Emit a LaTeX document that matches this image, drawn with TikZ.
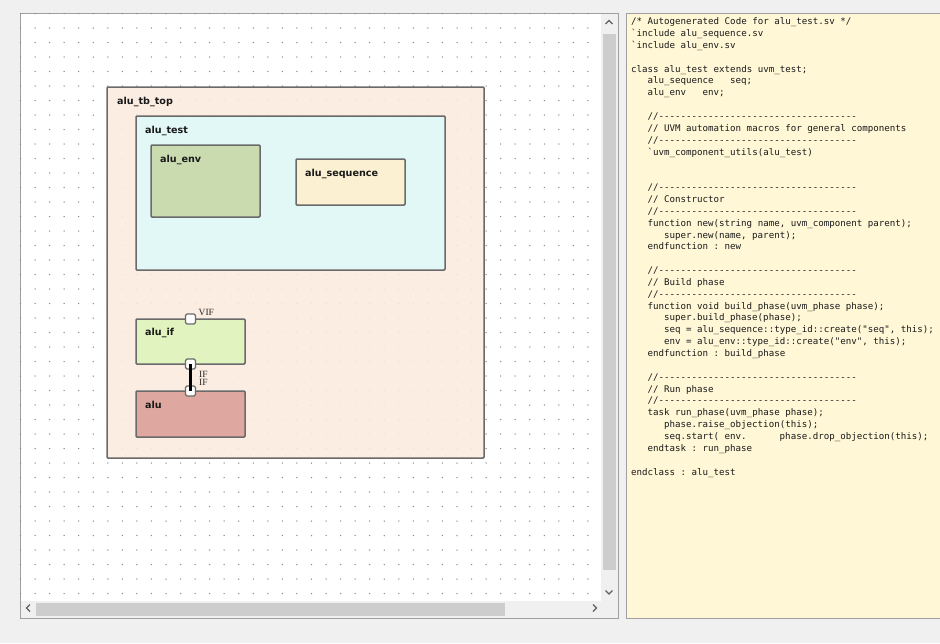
\documentclass[tikz,border=0pt]{standalone}
\usepackage{fontspec}
\setmonofont{DejaVu Sans Mono}
\newfontfamily\blkfont{DejaVu Sans}
\newfontfamily\portfont{Liberation Serif}
\usetikzlibrary{positioning}

\definecolor{bggray}{HTML}{F0F0F0}
\definecolor{frameline}{HTML}{A0A0A0}
\definecolor{dotc}{HTML}{8C8C8C}
\definecolor{blkline}{HTML}{6A6A6A}
\definecolor{tbtopfill}{HTML}{FCEBDE}
\definecolor{testfill}{HTML}{DFFAFA}
\definecolor{envfill}{HTML}{C6D8A6}
\definecolor{seqfill}{HTML}{FFF1CD}
\definecolor{iffill}{HTML}{DEF5BC}
\definecolor{alufill}{HTML}{DA9E96}
\definecolor{codefill}{HTML}{FFF7D6}
\definecolor{codetext}{HTML}{1A1A1A}
\definecolor{thumbc}{HTML}{CDCDCD}
\definecolor{sbarrowc}{HTML}{606060}

\newlength\codecw
\setlength\codecw{5.5pt}
\newcommand\codeind[1]{\hspace*{#1\codecw}}

\begin{document}
\begin{tikzpicture}[x=1pt, y=-1pt,
    blk/.style = {draw=blkline, line width=1.5pt, rounded corners=1pt, fill opacity=0.88, anchor=north west, inner sep=0, outer sep=0},
    lbl/.style = {anchor=base west, inner sep=0, font=\blkfont\bfseries\fontsize{9.6}{11}\selectfont, text=black!90},
    port/.style = {draw=blkline, fill=white, line width=1.2pt, rounded corners=1.5pt, minimum size=10pt, inner sep=0},
    plbl/.style = {anchor=base west, inner sep=0, font=\portfont\fontsize{9.5}{10}\selectfont, text=black!85},
    wire/.style = {draw=black, line width=2.2pt},
    code/.style = {anchor=north west, inner sep=0, align=left, text=codetext, font=\ttfamily\fontsize{9.14}{11.85}\selectfont\frenchspacing},
    sbarrow/.style = {draw=sbarrowc, line width=1.3pt}]
  \useasboundingbox (0,0) rectangle (940,643);
  \fill[bggray] (0,0) rectangle (940,643);

  % canvas with grid
  \filldraw[fill=white, draw=frameline, line width=1pt] (20,13) rectangle (618,618);
  \foreach \i in {0,...,39}
    \foreach \j in {0,...,40}
      \fill[dotc] (20.5+14.55*\i, 13.5+14.5*\j) circle (0.75pt);

  % blocks
  \node[blk, fill=tbtopfill, minimum width=377, minimum height=371] (tbtop) at (107,87) {};
  \node[blk, fill=testfill, minimum width=309, minimum height=154] (test) [below right=29pt and 29pt of tbtop.north west] {};
  \node[blk, fill=envfill, minimum width=109, minimum height=72] (env) [below right=29pt and 15pt of test.north west] {};
  \node[blk, fill=seqfill, minimum width=109, minimum height=46] (seq) [below right=43pt and 160pt of test.north west] {};
  \node[blk, fill=iffill, minimum width=109, minimum height=45] (aluif) [below right=232pt and 29pt of tbtop.north west] {};
  \node[blk, fill=alufill, minimum width=109, minimum height=46, anchor=north] (alu) [below=27pt of aluif] {};

  \node[lbl] (tbtoptxt) at ([shift={(10,17)}]tbtop.north west) {alu\_tb\_top};
  \node[lbl] (testtxt) at ([shift={(9,17)}]test.north west) {alu\_test};
  \node[lbl] (envtxt) at ([shift={(9,17)}]env.north west) {alu\_env};
  \node[lbl] (seqtxt) at ([shift={(9,17)}]seq.north west) {alu\_sequence};
  \node[lbl] (aluiftxt) at ([shift={(9,16)}]aluif.north west) {alu\_if};
  \node[lbl] (alutxt) at ([shift={(9,17)}]alu.north west) {alu};

  % ports
  \node[port] (vif) at (aluif.north) {};
  \node[port] (ifa) at (aluif.south) {};
  \node[port] (ifb) at (alu.north) {};
  \draw[wire] (ifa.center) -- (ifb.center);
  \node[plbl] (viftxt) at ([shift={(8,-4)}]vif.center) {VIF};
  \node[plbl] (ifatxt) at ([shift={(8.5,13.5)}]ifa.center) {IF};
  \node[plbl] (ifbtxt) at ([shift={(8.5,-5.5)}]ifb.center) {IF};

  % scroll bars
  \fill[bggray] (601,13.5) rectangle (617.5,617.5);
  \fill[bggray] (20.5,601) rectangle (617.5,617.5);
  \fill[thumbc] (603,34) rectangle (616,570);
  \fill[thumbc] (36,603) rectangle (505,615.5);
  \draw[sbarrow] (605.5,24) -- (609,20.5) -- (612.5,24);
  \draw[sbarrow] (605.5,590.5) -- (609,594) -- (612.5,590.5);
  \draw[sbarrow] (30,604.5) -- (26.5,608) -- (30,611.5);
  \draw[sbarrow] (593,604.5) -- (596.5,608) -- (593,611.5);

  % source panel
  \filldraw[fill=codefill, draw=frameline, line width=1pt] (626,13) rectangle (945,618);
  \node[code] (src) at (631,17.5) {%
/* Autogenerated Code for alu\_test.sv */\\
`include alu\_sequence.sv\\
`include alu\_env.sv\\
\mbox{}\\
class alu\_test extends uvm\_test;\\
\codeind{3}alu\_sequence\codeind{3}seq;\\
\codeind{3}alu\_env\codeind{3}env;\\
\mbox{}\\
\codeind{3}//------------------------------------\\
\codeind{3}// UVM automation macros for general components\\
\codeind{3}//------------------------------------\\
\codeind{3}`uvm\_component\_utils(alu\_test)\\
\mbox{}\\
\mbox{}\\
\codeind{3}//------------------------------------\\
\codeind{3}// Constructor\\
\codeind{3}//------------------------------------\\
\codeind{3}function new(string name, uvm\_component parent);\\
\codeind{6}super.new(name, parent);\\
\codeind{3}endfunction : new\\
\mbox{}\\
\codeind{3}//------------------------------------\\
\codeind{3}// Build phase\\
\codeind{3}//------------------------------------\\
\codeind{3}function void build\_phase(uvm\_phase phase);\\
\codeind{6}super.build\_phase(phase);\\
\codeind{6}seq = alu\_sequence::type\_id::create("seq", this);\\
\codeind{6}env = alu\_env::type\_id::create("env", this);\\
\codeind{3}endfunction : build\_phase\\
\mbox{}\\
\codeind{3}//------------------------------------\\
\codeind{3}// Run phase\\
\codeind{3}//------------------------------------\\
\codeind{3}task run\_phase(uvm\_phase phase);\\
\codeind{6}phase.raise\_objection(this);\\
\codeind{6}seq.start( env.\codeind{6}phase.drop\_objection(this);\\
\codeind{3}endtask : run\_phase\\
\mbox{}\\
endclass : alu\_test};
\end{tikzpicture}
\end{document}
